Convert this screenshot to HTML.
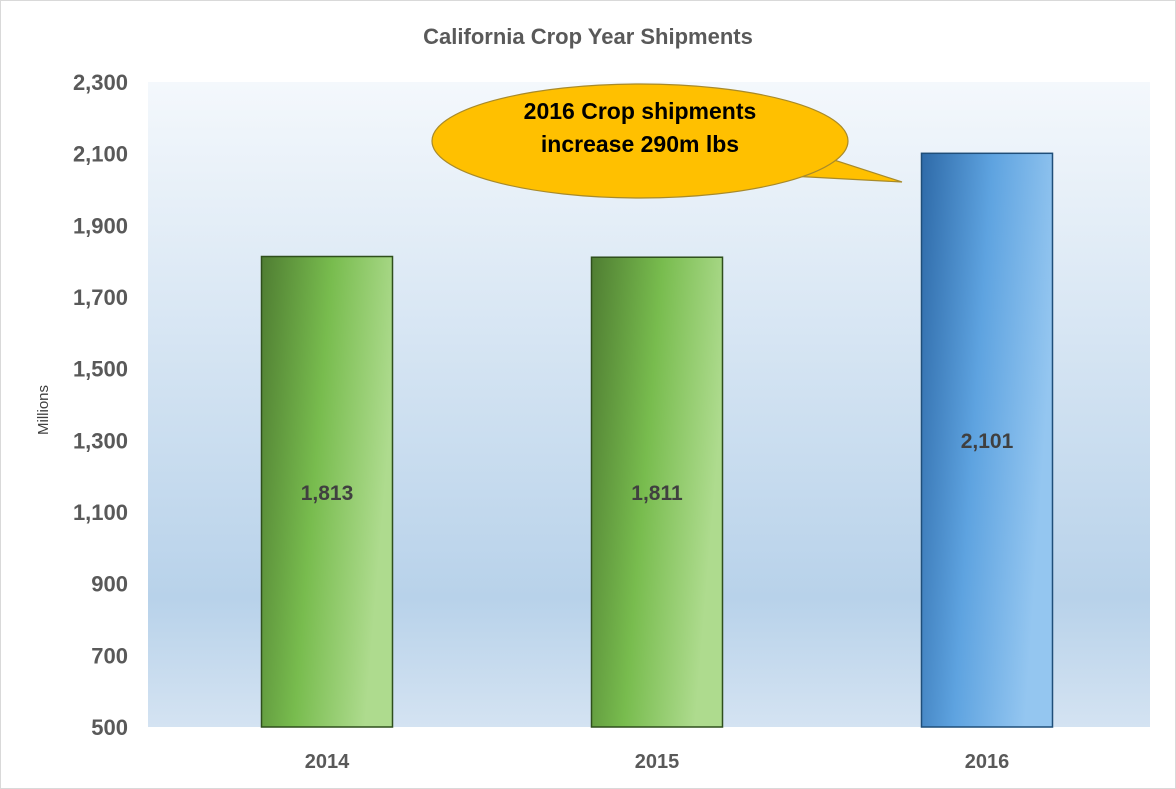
<!DOCTYPE html>
<html><head><meta charset="utf-8"><style>
html,body{margin:0;padding:0;background:#fff;}
svg{display:block;font-family:"Liberation Sans",sans-serif;}
</style></head><body>
<svg id="chart" width="1176" height="789" viewBox="0 0 1176 789">
<defs>
<linearGradient id="bg" x1="0" y1="0" x2="0" y2="1">
<stop offset="0" stop-color="#f4f8fc"/><stop offset="0.8" stop-color="#b8d2ea"/><stop offset="1" stop-color="#d4e3f2"/>
</linearGradient>
<linearGradient id="gGreen" x1="0" y1="0" x2="1" y2="0.3">
<stop offset="0" stop-color="#4f7d32"/><stop offset="0.5" stop-color="#78bc4e"/><stop offset="1" stop-color="#aedb8e"/>
</linearGradient>
<linearGradient id="gBlue" x1="0" y1="0" x2="1" y2="0.3">
<stop offset="0" stop-color="#2e6aa8"/><stop offset="0.5" stop-color="#5ea3e0"/><stop offset="1" stop-color="#94c6f0"/>
</linearGradient>
</defs>
<rect x="0.5" y="0.5" width="1175" height="788" fill="#fff" stroke="#d9d9d9"/>
<rect x="148" y="82" width="1002" height="645" fill="url(#bg)"/>
<text x="588" y="44" text-anchor="middle" font-size="22" font-weight="bold" fill="#595959">California Crop Year Shipments</text>
<text transform="translate(48,410) rotate(-90)" text-anchor="middle" font-size="15" fill="#404040">Millions</text>
<g id="yticks"></g>
<g id="bars"></g>
<g>
<path d="M 790 176 L 902 182 L 828 158 Z" fill="#FFC000" stroke="#a88a2a" stroke-width="1.2"/>
<ellipse cx="640" cy="141" rx="208" ry="57" fill="#FFC000" stroke="#a88a2a" stroke-width="1.2"/>
<path d="M 792 174 L 830 158" stroke="#FFC000" stroke-width="3"/>
<text x="640" y="119" text-anchor="middle" font-size="23" font-weight="bold" fill="#000">2016 Crop shipments</text>
<text x="640" y="152" text-anchor="middle" font-size="23" font-weight="bold" fill="#000">increase 290m lbs</text>
</g>
</svg>
<script>
const categories = ["2014","2015","2016"];
const values = [1813,1811,2101];
const valueLabels = ["1,813","1,811","2,101"];
const tickValues = [500,700,900,1100,1300,1500,1700,1900,2100,2300];
const tickLabels = ["500","700","900","1,100","1,300","1,500","1,700","1,900","2,100","2,300"];
(function(){
const NS="http://www.w3.org/2000/svg";
const yMin=500,yMax=2300,plotTop=82,plotBottom=727,plotLeft=162,plotRight=1152;
const y=v=>plotBottom-(v-yMin)/(yMax-yMin)*(plotBottom-plotTop);
const band=(plotRight-plotLeft)/categories.length;
const x=i=>plotLeft+band*(i+0.5);
const yt=document.getElementById('yticks');
tickValues.forEach((v,i)=>{
 const t=document.createElementNS(NS,'text');
 
 
 t.setAttribute('x',128);t.setAttribute('y',y(v)+8);
 t.setAttribute('text-anchor','end');t.setAttribute('font-size','22');
 t.setAttribute('font-weight','bold');t.setAttribute('fill','#595959');
 t.textContent=tickLabels[i];yt.appendChild(t);
});
const bg=document.getElementById('bars');
const bw=131;
categories.forEach((c,i)=>{
 const r=document.createElementNS(NS,'rect');
 
 
 r.setAttribute('x',x(i)-bw/2);r.setAttribute('y',y(values[i]));
 r.setAttribute('width',bw);r.setAttribute('height',plotBottom-y(values[i]));
 r.setAttribute('fill',i===2?'url(#gBlue)':'url(#gGreen)');
 r.setAttribute('stroke',i===2?'#1f4e79':'#2f4f1c');r.setAttribute('stroke-width','1.5');
 bg.appendChild(r);
 const l=document.createElementNS(NS,'text');
 
 
 l.setAttribute('x',x(i));l.setAttribute('y',(y(values[i])+plotBottom)/2+8);
 l.setAttribute('text-anchor','middle');l.setAttribute('font-size','21');
 l.setAttribute('font-weight','bold');l.setAttribute('fill','#404040');
 l.textContent=valueLabels[i];bg.appendChild(l);
 const xl=document.createElementNS(NS,'text');
 
 
 xl.setAttribute('x',x(i));xl.setAttribute('y',768);
 xl.setAttribute('text-anchor','middle');xl.setAttribute('font-size','20');
 xl.setAttribute('font-weight','bold');xl.setAttribute('fill','#595959');
 xl.textContent=c;bg.appendChild(xl);
});
})();
</script>
</body></html>
